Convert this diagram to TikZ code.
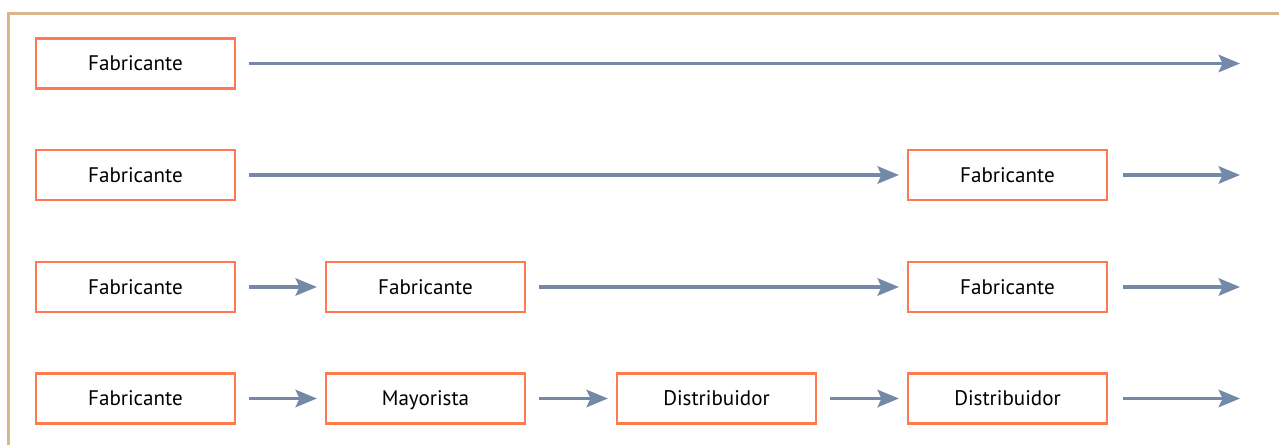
\documentclass[tikz,border=0pt]{standalone}
\usepackage{fontspec}
\setmainfont{PT Sans}
\usetikzlibrary{arrows.meta, positioning}
\definecolor{boxline}{HTML}{FF7B4D}
\definecolor{flowcol}{HTML}{7489A8}
\definecolor{framecol}{HTML}{DBB68C}

\begin{document}
\begin{tikzpicture}[x=0.75pt, y=-0.75pt,
    box/.style={draw=boxline, line width=1.9pt, minimum width=149pt, minimum height=37.5pt,
      inner sep=0pt, text height=11pt, text depth=0pt, font=\fontsize{15.8}{17}\selectfont},
    flow/.style={draw=flowcol, line width=2.7pt, shorten <=9.5pt, shorten >=6pt,
      -{Stealth[length=16pt, width=13pt, inset=3pt]}}]
  \useasboundingbox (0,0) rectangle (1279,445);
  % open frame
  \draw[framecol, line width=1.6pt] (8.5,445) -- (8.5,13.5) -- (1279,13.5);
  % first column, end points
  \foreach \r/\y in {1/63.5, 2/175, 3/287, 4/398.5} {
    \node[box] (f\r) at (135.5,\y) {Fabricante};
    \coordinate (end\r) at (1240,\y);
  }
  % row 2
  \node[box] (b24) at (1007.5,175) {Fabricante};
  % row 3
  \node[box] (b32) at (425.5,287) {Fabricante};
  \node[box] (b34) at (1007.5,287) {Fabricante};
  % row 4
  \node[box] (b42) at (425.5,398.5) {Mayorista};
  \node[box] (b43) at (716.5,398.5) {Distribuidor};
  \node[box] (b44) at (1007.5,398.5) {Distribuidor};
  % arrows
  \draw[flow, shorten >=0pt] (f1) -- (end1);
  \draw[flow] (f2) -- (b24);
  \draw[flow, shorten <=11pt, shorten >=0pt] (b24) -- (end2);
  \draw[flow] (f3) -- (b32);
  \draw[flow] (b32) -- (b34);
  \draw[flow, shorten <=11pt, shorten >=0pt] (b34) -- (end3);
  \draw[flow] (f4) -- (b42);
  \draw[flow] (b42) -- (b43);
  \draw[flow] (b43) -- (b44);
  \draw[flow, shorten <=11pt, shorten >=0pt] (b44) -- (end4);
\end{tikzpicture}
\end{document}
